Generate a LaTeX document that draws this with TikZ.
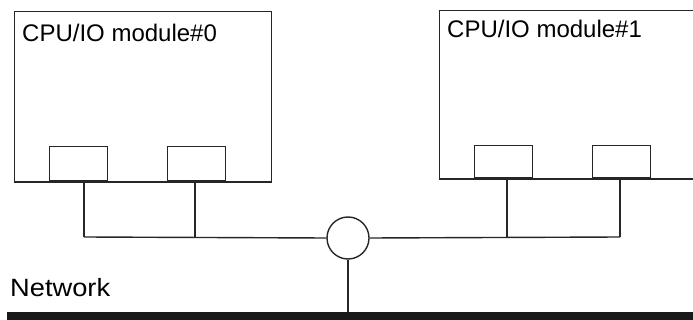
\documentclass[tikz,border=0pt]{standalone}
\usepackage{fontspec}
\usepackage{graphicx}
\setmainfont{Liberation Sans}
\begin{document}
\begin{tikzpicture}[x=1pt,y=-1pt,
  line/.style={draw=black!85,line width=1.4pt},
  module/.style={line,rectangle,inner sep=0pt,anchor=north west},
  port/.style={line,fill=white,rectangle,inner sep=0pt,minimum width=58pt,minimum height=34pt,anchor=south west},
  lbl/.style={font=\fontsize{24}{28}\selectfont,inner sep=0pt,anchor=base west}]
\useasboundingbox (0,0) rectangle (693,320);
% modules
\node[module,minimum width=257pt,minimum height=170pt] (m0) at (14,11) {};
\node[module,minimum width=254pt,minimum height=168pt] (m1) at (439,10) {};
\node[lbl] (t0) at (22,42) {CPU/IO module\#0};
\node[lbl] (t1) at (447,38) {CPU/IO module\#1};
% ports
\node[port] (p00) at (49,181) {};
\node[port] (p01) at (167,181) {};
\node[port,minimum height=32pt] (p10) at (474,178) {};
\node[port,minimum height=32pt] (p11) at (592,178) {};
\draw[line] (m0.south west) -- (m0.south east);
\draw[line] (m1.south west) -- (m1.south east);
% hub
\node[line,circle,minimum size=42pt,inner sep=0pt] (hub) at (348,238) {};
\coordinate (j0) at (84,237);
\coordinate (j1) at (195,237);
\coordinate (j2) at (507,237);
\coordinate (j3) at (620,237);
\draw[line] (84,181) -- (j0);
\draw[line] (195,181) -- (j1);
\draw[line] (507,178) -- (j2);
\draw[line] (620,178) -- (j3);
\draw[line] (j0) -- (hub.west);
\draw[line] (hub.east) -- (j3);
% network
\node[lbl,font=\fontsize{25}{29}\selectfont] (net) at (10,296.5) {\scalebox{1.09}[1]{Network}};
\fill[black!90] (7,312) rectangle (693,320);
\coordinate (bus) at (348,312);
\draw[line] (hub.south) -- (bus);
\end{tikzpicture}
\end{document}
